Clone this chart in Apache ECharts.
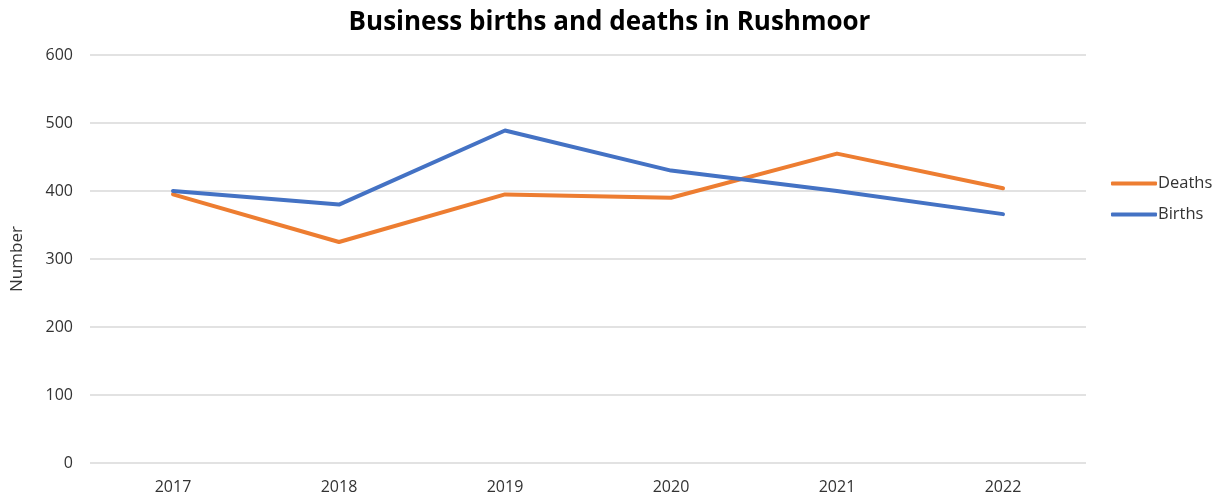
<!DOCTYPE html>
<html>
<head>
<meta charset="utf-8">
<script src="https://cdn.jsdelivr.net/npm/echarts@6/dist/echarts.min.js"></script>
<style>html,body{margin:0;padding:0;background:#fff}#c{width:1219px;height:499px}</style>
</head>
<body>
<div id="c"></div>
<script>
const years = ['2017', '2018', '2019', '2020', '2021', '2022'];
const deaths = [395, 325, 395, 390, 455, 404];
const births = [400, 380, 489, 430, 400, 366];
const yTicks = { min: 0, max: 600, interval: 100 };

const font = '"Open Sans", "Noto Sans", sans-serif';
const chart = echarts.init(document.getElementById('c'));
chart.setOption({
  backgroundColor: '#fff',
  animation: false,
  title: {
    text: 'Business births and deaths in Rushmoor',
    left: 'center', top: 5,
    textStyle: { fontFamily: font, fontWeight: 'bold', fontSize: 26, color: '#000' }
  },
  legend: {
    orient: 'vertical', left: 1106, top: 170, itemGap: 14,
    itemWidth: 46, itemHeight: 4, icon: 'roundRect',
    textStyle: { fontFamily: font, fontSize: 16.5, color: '#333', padding: [0, 0, 0, -4] },
    data: ['Deaths', 'Births']
  },
  grid: { left: 90, right: 133, top: 55, bottom: 36, containLabel: false },
  xAxis: {
    type: 'category', data: years, boundaryGap: true,
    axisLine: { show: false }, axisTick: { show: false },
    axisLabel: { fontFamily: font, fontSize: 16, color: '#333', margin: 16 }
  },
  yAxis: {
    type: 'value', min: yTicks.min, max: yTicks.max, interval: yTicks.interval,
    name: 'Number', nameLocation: 'middle', nameGap: 64, nameRotate: 90,
    nameTextStyle: { fontFamily: font, fontSize: 17, color: '#333' },
    axisLine: { show: false }, axisTick: { show: false },
    axisLabel: { fontFamily: font, fontSize: 16, color: '#333', margin: 17 },
    splitLine: { lineStyle: { color: '#d9d9d9', width: 1.5 } }
  },
  series: [
    { name: 'Deaths', type: 'line', data: deaths, symbol: 'none',
      lineStyle: { color: '#ED7D31', width: 4, cap: 'round', join: 'round' }, itemStyle: { color: '#ED7D31' } },
    { name: 'Births', type: 'line', data: births, symbol: 'none',
      lineStyle: { color: '#4472C4', width: 4, cap: 'round', join: 'round' }, itemStyle: { color: '#4472C4' } }
  ]
});
</script>
</body>
</html>
